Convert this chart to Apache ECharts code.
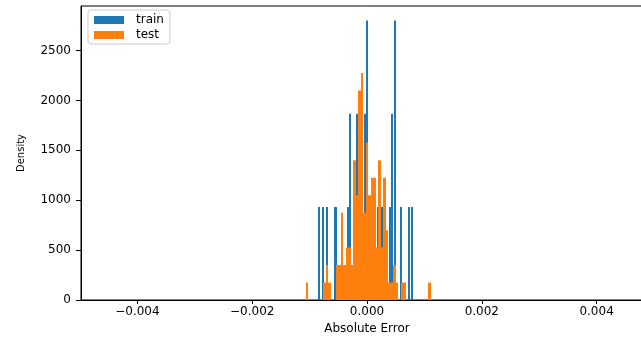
<!DOCTYPE html>
<html>
<head>
<meta charset="utf-8">
<script src="https://cdn.jsdelivr.net/npm/echarts@6/dist/echarts.min.js"></script>
<style>
html,body{margin:0;padding:0;background:#fff;}
#chart{width:641px;height:337px;}
</style>
</head>
<body>
<div id="chart"></div>
<script>
// ---- data ----
const seriesNames = ['train', 'test'];

// train histogram: 50 bins
const trainBinStart = -0.000848;
const trainBinEnd = 0.000807;
const trainDensity = [
  933, 0, 933, 0, 933, 0, 0, 0, 933, 933,
  0, 0, 0, 0, 0, 933, 1867, 0, 0, 0,
  1867, 0, 0, 0, 1867, 2800, 0, 0, 0, 0,
  0, 933, 0, 933, 0, 0, 0, 933, 1867, 0,
  2800, 0, 0, 933, 0, 0, 0, 933, 0, 933
];

// test histogram: 50 bins
const testBinStart = -0.001063;
const testBinEnd = 0.001110;
const testDensity = [
  175, 0, 0, 0, 0, 0, 0, 175, 350, 175,
  0, 0, 350, 350, 875, 350, 525, 525, 350, 1400,
  1050, 2100, 2275, 875, 1575, 1050, 1225, 1225, 525, 1400,
  525, 1225, 700, 175, 175, 350, 175, 0, 175, 175,
  0, 0, 0, 0, 0, 0, 0, 0, 0, 175
];

const xTicks = [-0.004, -0.002, 0.000, 0.002, 0.004];
const yTicks = [0, 500, 1000, 1500, 2000, 2500];

const xLabel = 'Absolute Error';
const yLabel = 'Density';

// ---- build ----
function bins(start, end, dens) {
  const n = dens.length, w = (end - start) / n, out = [];
  for (let i = 0; i < n; i++) {
    if (dens[i] > 0) out.push([start + i * w, start + (i + 1) * w, dens[i]]);
  }
  return out;
}

const colors = ['#1f77b4', '#ff7f0e'];
const FONT = 'DejaVu Sans';

function makeRender(color) {
  return function (params, api) {
    const p0 = api.coord([api.value(0), api.value(2)]);
    const p1 = api.coord([api.value(1), 0]);
    const x0 = Math.round(p0[0]);
    let x1 = Math.round(p1[0]);
    if (x1 - x0 < 2) x1 = x0 + 2;
    return {
      type: 'rect',
      shape: { x: x0, y: p0[1], width: x1 - x0, height: p1[1] - p0[1] },
      style: { fill: color }
    };
  };
}

const chart = echarts.init(document.getElementById('chart'), null, { renderer: 'canvas' });
chart.setOption({
  animation: false,
  color: colors,
  textStyle: { fontFamily: FONT, color: '#000' },
  grid: {
    left: 81, right: -1, top: 6, bottom: 37,
    containLabel: false, outerBoundsMode: 'none',
    show: true, borderColor: '#000', borderWidth: 1, backgroundColor: 'transparent'
  },
  legend: {
    orient: 'vertical',
    left: 88, top: 10,
    padding: [4, 6, 3, 6],
    itemWidth: 30, itemHeight: 8,
    itemGap: 3,
    icon: 'rect',
    borderColor: '#cccccc', borderWidth: 1, borderRadius: 3,
    backgroundColor: 'rgba(255,255,255,0.8)',
    textStyle: { fontFamily: FONT, fontSize: 12, color: '#000', lineHeight: 12, padding: [0, 0, 0, 7] },
    data: seriesNames
  },
  xAxis: {
    type: 'value',
    min: -0.004983, max: 0.004791,
    name: xLabel, nameLocation: 'middle', nameGap: 20,
    nameTextStyle: { fontFamily: FONT, fontSize: 12, color: '#000', padding: [0, 0, 0, 11] },
    axisLine: { show: true, onZero: false, lineStyle: { color: '#000', width: 1 } },
    axisTick: { show: true, length: 4, lineStyle: { color: '#000' }, customValues: xTicks },
    axisLabel: {
      fontFamily: FONT, fontSize: 12, color: '#000', margin: 6,
      customValues: xTicks,
      formatter: v => (v < 0 ? '\u2212' : '') + Math.abs(v).toFixed(3)
    },
    splitLine: { show: false }
  },
  yAxis: {
    type: 'value',
    min: 0, max: 2946,
    name: yLabel, nameLocation: 'middle', nameGap: 55, nameRotate: 90,
    nameTextStyle: { fontFamily: FONT, fontSize: 10, color: '#000' },
    axisLine: { show: true, onZero: false, lineStyle: { color: '#000', width: 1 } },
    axisTick: { show: true, length: 5, lineStyle: { color: '#000' }, customValues: yTicks },
    axisLabel: {
      fontFamily: FONT, fontSize: 12, color: '#000', margin: 10, customValues: yTicks,
      formatter: v => String(Math.round(v))
    },
    splitLine: { show: false }
  },
  series: [
    {
      name: seriesNames[0], type: 'custom',
      itemStyle: { color: colors[0] },
      renderItem: makeRender(colors[0]),
      encode: { x: [0, 1], y: 2 },
      data: bins(trainBinStart, trainBinEnd, trainDensity),
      z: 2
    },
    {
      name: seriesNames[1], type: 'custom',
      itemStyle: { color: colors[1] },
      renderItem: makeRender(colors[1]),
      encode: { x: [0, 1], y: 2 },
      data: bins(testBinStart, testBinEnd, testDensity),
      z: 3
    }
  ]
});
</script>
</body>
</html>
